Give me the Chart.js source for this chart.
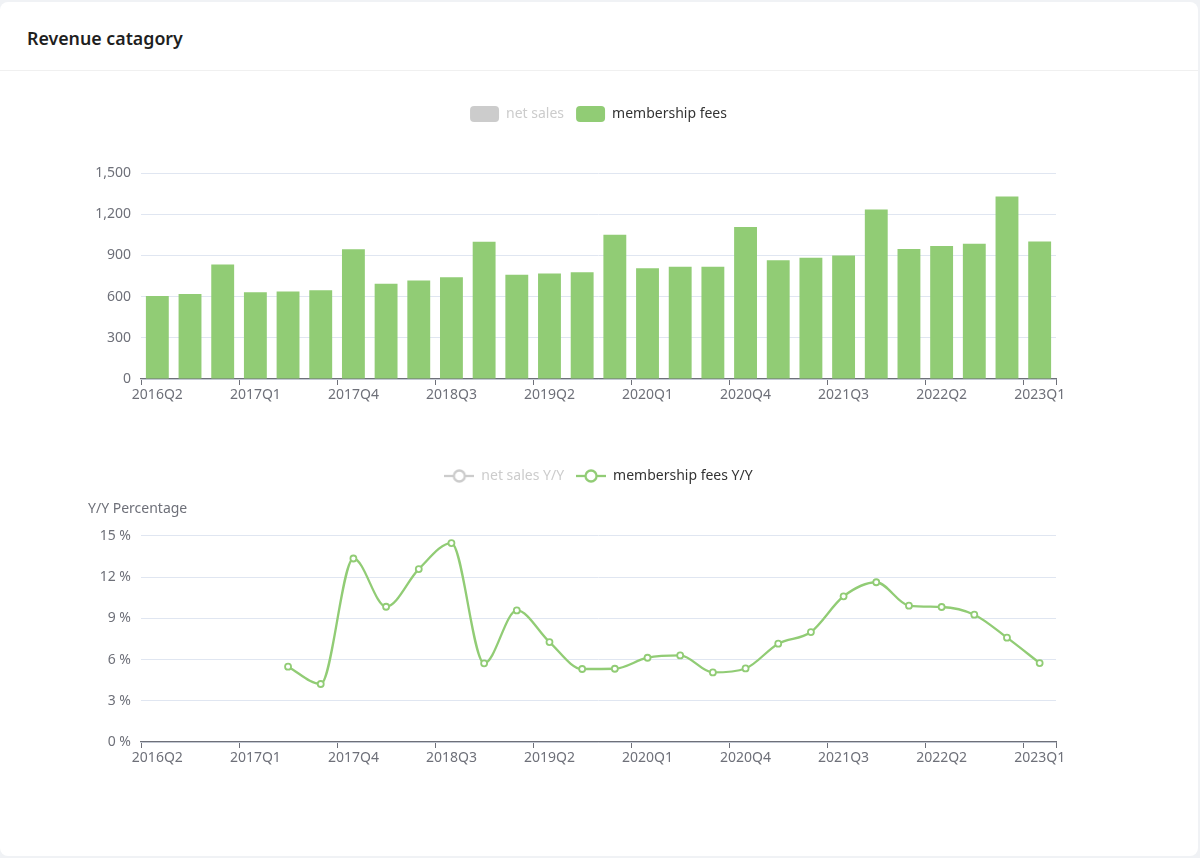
<!DOCTYPE html>
<html>
<head>
<meta charset="utf-8">
<script src="https://cdn.jsdelivr.net/npm/chart.js@4"></script>
<style>
  html, body { margin: 0; padding: 0; background: #f0f2f5; }
  body { width: 1200px; height: 858px; position: relative; overflow: hidden; font-family: "Noto Sans", sans-serif; }
  #card { position: absolute; left: 0; top: 2px; width: 1198px; height: 854px; background: #fff; border-radius: 8px; }
  #head { height: 69px; border-bottom: 1px solid #f0f0f0; box-sizing: border-box; padding-left: 27px; line-height: 72px; font-size: 17.8px; font-weight: 600; color: #1f1f1f; }
  #barBox { position: absolute; left: 0; top: 94px; width: 1200px; height: 325px; }
  #lineBox { position: absolute; left: 0; top: 457px; width: 1200px; height: 325px; }
</style>
</head>
<body>
<div id="card"><div id="head">Revenue catagory</div></div>
<div id="barBox"><canvas id="barChart"></canvas></div>
<div id="lineBox"><canvas id="lineChart"></canvas></div>
<script>
// quarters shown on both x axes
const quarters = [
  '2016Q2', '2016Q3', '2016Q4',
  '2017Q1', '2017Q2', '2017Q3', '2017Q4',
  '2018Q1', '2018Q2', '2018Q3', '2018Q4',
  '2019Q1', '2019Q2', '2019Q3', '2019Q4',
  '2020Q1', '2020Q2', '2020Q3', '2020Q4',
  '2021Q1', '2021Q2', '2021Q3', '2021Q4',
  '2022Q1', '2022Q2', '2022Q3', '2022Q4',
  '2023Q1'
]

// membership fees per quarter
const membershipFees = [
  604, 619, 833,
  631, 638, 646, 944,
  694, 718, 740, 1000,
  760, 769, 777, 1050,
  806, 818, 818, 1107,
  864, 883, 900, 1235,
  947, 968, 985, 1328,
  1002
]

// net sales series is switched off in the legend, no values shown
const netSales = []

// membership fees Y/Y in percent (no value for the first four quarters)
const membershipFeesYoY = [
  null, null, null,
  null, 5.48, 4.22, 13.35,
  9.84, 12.58, 14.47, 5.72,
  9.57, 7.27, 5.31, 5.33,
  6.13, 6.30, 5.06, 5.35,
  7.15, 8.00, 10.60, 11.62,
  9.92, 9.82, 9.26, 7.59,
  5.74
]
const netSalesYoY = []

const barTicks = [0, 300, 600, 900, 1200, 1500]
const pctTicks = [0, 3, 6, 9, 12, 15]

const GREEN = '#91cc75'
const OFF = '#cccccc'
const AXIS = '#6E7079'
const GRID = '#E0E6F1'
const FONT = { family: '"Noto Sans", sans-serif', size: 14 }

Chart.defaults.font.family = FONT.family
Chart.defaults.font.size = 14

// legend icon for line series: short line with an empty circle
function lineIcon(color) {
  let c = document.createElement('canvas')
  c.width = 30
  c.height = 16
  let g = c.getContext('2d')
  g.strokeStyle = color
  g.lineWidth = 2.3
  g.beginPath()
  g.moveTo(0, 8)
  g.lineTo(30, 8)
  g.stroke()
  g.beginPath()
  g.arc(15, 8, 5.5, 0, Math.PI * 2)
  g.fillStyle = '#fff'
  g.fill()
  g.stroke()
  return c
}

// push the chart area a bit further below the legend
function legendGap(extra) {
  return {
    id: 'legendGap',
    beforeInit(chart) {
      const fit = chart.legend.fit
      chart.legend.fit = function () {
        fit.call(this)
        this.height += extra
      }
    }
  }
}

function xAxis() {
  return {
    type: 'category',
    offset: true,
    grid: {
      offset: true,
      drawOnChartArea: false,
      drawTicks: true,
      tickLength: 6,
      tickWidth: 1,
      tickColor: ctx => (ctx.index === undefined || ctx.index % 3 === 0) ? AXIS : 'rgba(0,0,0,0)'
    },
    border: { display: true, color: AXIS, width: 1.2 },
    ticks: {
      autoSkip: false,
      maxRotation: 0,
      padding: 2,
      color: AXIS,
      font: FONT,
      callback: function (v, i) { return i % 3 === 0 ? this.getLabelForValue(v) : '' }
    },
    afterFit: s => { s.height = 40 }
  }
}

function yAxis(ticks, fmt) {
  return {
    min: ticks[0],
    max: ticks[ticks.length - 1],
    afterBuildTicks: s => { s.ticks = ticks.map(v => ({ value: v })) },
    grid: { color: GRID, lineWidth: 1, drawTicks: false },
    border: { display: false },
    ticks: { padding: 10, color: AXIS, font: FONT, callback: fmt },
    afterFit: s => { s.width = 53 }
  }
}

// bar chart
let barChart = new Chart(document.getElementById('barChart'), {
  type: 'bar',
  data: {
    labels: quarters,
    datasets: [
      { label: 'net sales', data: netSales, backgroundColor: '#5470c6', hidden: true },
      { label: 'membership fees', data: membershipFees, backgroundColor: GREEN, barPercentage: 0.7, categoryPercentage: 1 }
    ]
  },
  options: {
    responsive: true,
    maintainAspectRatio: false,
    animation: false,
    layout: { padding: { left: 88, right: 144, top: 0, bottom: 0 } },
    scales: {
      x: xAxis(),
      y: yAxis(barTicks, v => v.toLocaleString('en-US'))
    },
    plugins: {
      tooltip: { enabled: false },
      legend: {
        fullSize: false,
        labels: {
          boxWidth: 29,
          boxHeight: 16,
          useBorderRadius: true,
          borderRadius: 4,
          padding: 12,
          color: '#333',
          font: FONT,
          generateLabels: chart => {
            let items = Chart.defaults.plugins.legend.labels.generateLabels(chart)
            items.forEach(it => {
              it.lineWidth = 0
              if (chart.data.datasets[it.datasetIndex].hidden) {
                it.fillStyle = OFF
                it.strokeStyle = OFF
                it.fontColor = OFF
                it.hidden = false
              } else {
                it.fontColor = '#333'
              }
            })
            return items
          }
        }
      }
    }
  },
  plugins: [legendGap(41)]
})

// Y/Y line chart
let lineChart = new Chart(document.getElementById('lineChart'), {
  type: 'line',
  data: {
    labels: quarters,
    datasets: [
      { label: 'net sales Y/Y', data: netSalesYoY, borderColor: '#5470c6', hidden: true },
      {
        label: 'membership fees Y/Y',
        data: membershipFeesYoY,
        borderColor: GREEN,
        borderWidth: 2.3,
        cubicInterpolationMode: 'monotone',
        pointRadius: 3,
        pointBorderWidth: 1.8,
        pointBackgroundColor: '#fff',
        pointBorderColor: GREEN,
        spanGaps: false
      }
    ]
  },
  options: {
    responsive: true,
    maintainAspectRatio: false,
    animation: false,
    layout: { padding: { left: 88, right: 144, top: 0, bottom: 0 } },
    scales: {
      x: xAxis(),
      y: yAxis(pctTicks, v => v + ' %')
    },
    plugins: {
      tooltip: { enabled: false },
      title: {
        display: true,
        text: 'Y/Y Percentage',
        align: 'start',
        weight: 2000,
        color: AXIS,
        font: { family: FONT.family, size: 14, weight: 'normal' },
        padding: { top: 8, bottom: 18 }
      },
      legend: {
        fullSize: false,
        weight: 3000,
        labels: {
          usePointStyle: true,
          pointStyleWidth: 30,
          boxHeight: 16,
          padding: 12,
          color: '#333',
          font: FONT,
          generateLabels: chart => {
            let items = Chart.defaults.plugins.legend.labels.generateLabels(chart)
            items.forEach(it => {
              if (chart.data.datasets[it.datasetIndex].hidden) {
                it.pointStyle = lineIcon(OFF)
                it.fontColor = OFF
                it.hidden = false
              } else {
                it.pointStyle = lineIcon(GREEN)
                it.fontColor = '#333'
              }
            })
            return items
          }
        }
      }
    }
  }
})
</script>
</body>
</html>
